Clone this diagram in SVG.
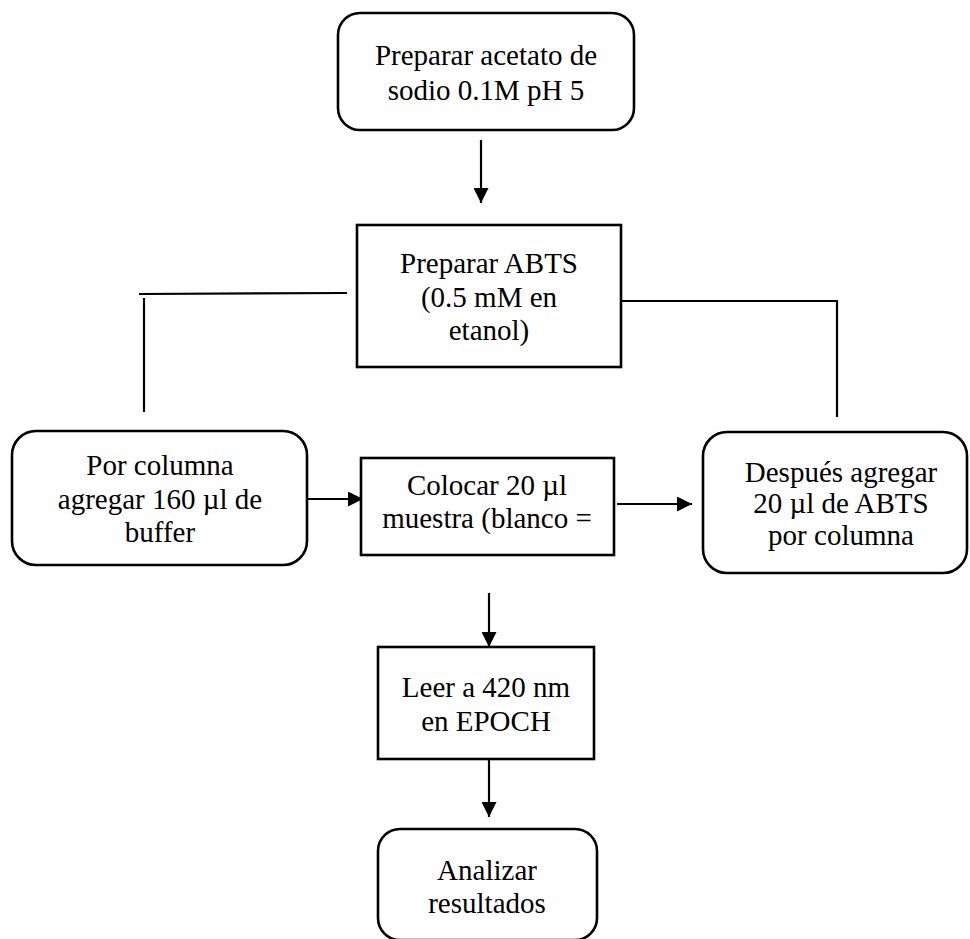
<svg xmlns="http://www.w3.org/2000/svg" width="970" height="939" viewBox="0 0 970 939">
<defs>
<marker id="ah" viewBox="0 0 10 10" refX="10" refY="5" markerWidth="15" markerHeight="15" markerUnits="userSpaceOnUse" orient="auto">
<path d="M0,0 L10,5 L0,10 Z" fill="#000"/>
</marker>
</defs>
<style>
.box{fill:#fff;stroke:#000;stroke-width:2.6}
.t{font-family:"Liberation Serif","Times New Roman",serif;font-size:29px;fill:#000;text-anchor:middle}
.c{stroke:#000;stroke-width:2.2;fill:none}
.a{stroke:#000;stroke-width:2.2;fill:none;marker-end:url(#ah)}
</style>
<rect width="970" height="939" fill="#fff"/>
<g id="connectors">
<line class="a" x1="481" y1="140" x2="481" y2="203"/>
<line class="c" x1="139" y1="294" x2="347" y2="293"/>
<line class="c" x1="144" y1="298" x2="144" y2="412"/>
<line class="c" x1="621" y1="301" x2="838" y2="301"/>
<line class="c" x1="837" y1="301" x2="837" y2="417"/>
<line class="a" x1="303" y1="499" x2="363" y2="499"/>
<line class="a" x1="617" y1="504" x2="692" y2="504"/>
<line class="a" x1="489" y1="593" x2="489" y2="647"/>
<line class="a" x1="489" y1="759" x2="489" y2="817"/>
</g>
<g id="n1">
<rect class="box" x="338" y="13" width="296" height="117" rx="22"/>
<text class="t" x="486" y="65">Preparar acetato de</text>
<text class="t" x="486" y="100">sodio 0.1M pH 5</text>
</g>
<g id="n2">
<rect class="box" x="357" y="225" width="264" height="142"/>
<text class="t" x="489" y="273">Preparar ABTS</text>
<text class="t" x="489" y="307">(0.5 mM en</text>
<text class="t" x="489" y="340">etanol)</text>
</g>
<g id="n3">
<rect class="box" x="12" y="431" width="295" height="134" rx="24"/>
<text class="t" x="160" y="475">Por columna</text>
<text class="t" x="160" y="509">agregar 160 µl de</text>
<text class="t" x="160" y="542">buffer</text>
</g>
<g id="n4">
<rect class="box" x="361" y="458" width="253" height="97"/>
<text class="t" x="487" y="495">Colocar 20 µl</text>
<text class="t" x="487" y="528">muestra (blanco =</text>
</g>
<g id="n5">
<rect class="box" x="703" y="432" width="264" height="141" rx="24"/>
<text class="t" x="841" y="482">Después agregar</text>
<text class="t" x="841" y="513">20 µl de ABTS</text>
<text class="t" x="841" y="545">por columna</text>
</g>
<g id="n6">
<rect class="box" x="378" y="647" width="216" height="112"/>
<text class="t" x="486" y="697">Leer a 420 nm</text>
<text class="t" x="486" y="731">en EPOCH</text>
</g>
<g id="n7">
<rect class="box" x="378" y="829" width="219" height="111" rx="22"/>
<text class="t" x="487" y="880">Analizar</text>
<text class="t" x="487" y="913">resultados</text>
</g>
</svg>
